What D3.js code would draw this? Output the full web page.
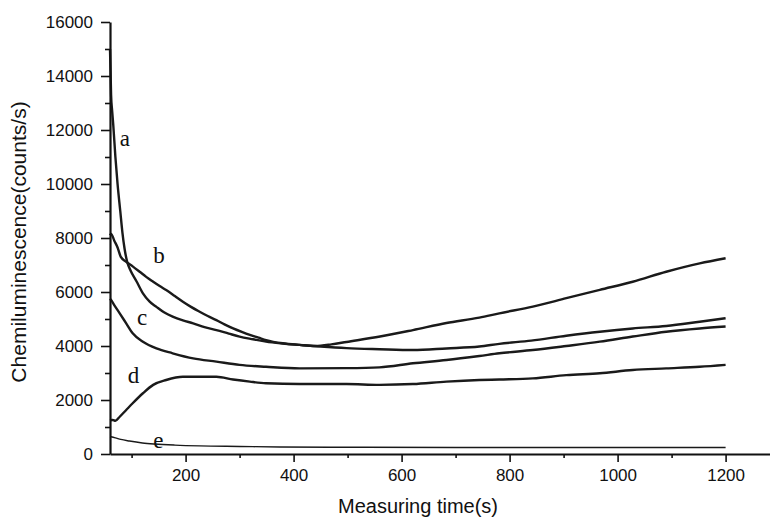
<!DOCTYPE html>
<html>
<head>
<meta charset="utf-8">
<script src="https://cdn.jsdelivr.net/npm/d3@7"></script>
<style>
    body { margin: 0; background: #fff; }
    svg { display: block; }
</style>
</head>
<body>
<div id="chart"></div>
<script>
// Time (s) and chemiluminescence (counts/s)
const curveA = [[60,15000],[61,14200],[62,13300],[64,12700],[66,12200],[70,11000],[74,10000],[79,9000],[83,8200],[87,7600],[92,7100],[98,6800],[109,6400],[121,5950],[133,5650],[146,5450],[160,5250],[176,5090],[195,4950],[214,4840],[235,4700],[257,4590],[280,4460],[300,4350],[325,4250],[349,4160],[380,4090],[411,4040],[450,3980],[498,3920],[559,3880],[621,3850],[683,3910],[744,3980],[781,4080],[840,4200],[905,4380],[967,4530],[1028,4650],[1090,4740],[1152,4900],[1200,5030]];
const curveB = [[60,8100],[62,8150],[68,7900],[74,7650],[80,7300],[90,7120],[102,6950],[115,6750],[127,6560],[140,6380],[152,6220],[164,6070],[180,5850],[195,5640],[210,5450],[226,5270],[241,5110],[257,4960],[272,4800],[288,4650],[304,4520],[319,4410],[335,4310],[349,4220],[380,4100],[411,4040],[440,4000],[470,4060],[498,4150],[560,4350],[621,4590],[683,4850],[744,5050],[781,5210],[843,5460],[905,5770],[967,6080],[1028,6380],[1090,6750],[1152,7060],[1200,7250]];
const curveC = [[60,5750],[62,5700],[70,5450],[78,5210],[90,4840],[102,4470],[121,4160],[146,3910],[176,3730],[214,3540],[257,3420],[300,3300],[349,3230],[411,3170],[498,3180],[559,3210],[621,3360],[683,3480],[744,3630],[781,3730],[843,3850],[905,4000],[967,4160],[1028,4350],[1090,4530],[1152,4650],[1200,4720]];
const curveD = [[60,1250],[65,1260],[70,1230],[78,1380],[90,1630],[102,1880],[121,2250],[140,2560],[164,2740],[195,2860],[226,2860],[257,2860],[288,2760],[319,2680],[349,2620],[411,2590],[498,2590],[559,2560],[621,2590],[683,2680],[744,2740],[781,2760],[843,2800],[905,2920],[967,2990],[1028,3110],[1090,3170],[1152,3230],[1200,3300]];
const curveE = [[60,650],[70,600],[80,540],[96,480],[120,410],[143,370],[180,330],[226,300],[300,280],[374,260],[500,250],[700,240],[900,240],[1200,240]];

const seriesNames = ["a", "b", "c", "d", "e"];
// where each letter is written, in data units
const labelAnchors = [[78,11400],[140,7070],[110,4780],[93,2630],[140,220]];

const xMajor = [200, 400, 600, 800, 1000, 1200];
const xMinor = [100, 300, 500, 700, 900, 1100];
const yMajor = [0, 2000, 4000, 6000, 8000, 10000, 12000, 14000, 16000];
const yMinor = [1000, 3000, 5000, 7000, 9000, 11000, 13000, 15000];

const width = 770, height = 521;

const x = d3.scaleLinear().domain([60, 1285]).range([110, 771.5]);
const y = d3.scaleLinear().domain([0, 16000]).range([454, 22]);

const svg = d3.select('#chart').append('svg')
    .attr('width', width)
    .attr('height', height)
    .style('font-family', '"Liberation Sans", Arial, sans-serif');

// curves
const line = d3.line()
    .x(d => x(d[0]))
    .y(d => y(d[1]))
    .curve(d3.curveMonotoneX);

const allCurves = [curveA, curveB, curveC, curveD, curveE];
svg.append('g')
    .selectAll('path')
    .data(allCurves)
    .join('path')
    .attr('d', line)
    .attr('fill', 'none')
    .attr('stroke', '#1a1a1a')
    .attr('stroke-width', (d, i) => i === 4 ? 1.4 : 2.4)
    .attr('stroke-linejoin', 'round');

// minor ticks first, then the major axis on top
svg.append('g')
    .attr('transform', `translate(0,${y(0)})`)
    .call(d3.axisBottom(x).tickValues(xMinor).tickSize(4).tickFormat(''))
    .call(g => g.select('.domain').remove());

svg.append('g')
    .attr('transform', `translate(${x(60)},0)`)
    .call(d3.axisLeft(y).tickValues(yMinor).tickSize(5).tickFormat(''))
    .call(g => g.select('.domain').remove());

const xAxis = svg.append('g')
    .attr('transform', `translate(0,${y(0)})`)
    .call(d3.axisBottom(x).tickValues(xMajor).tickFormat(d3.format('d'))
        .tickSize(8).tickSizeOuter(0).tickPadding(7));

const yAxis = svg.append('g')
    .attr('transform', `translate(${x(60)},0)`)
    .call(d3.axisLeft(y).tickValues(yMajor).tickFormat(d3.format('d'))
        .tickSize(9).tickSizeOuter(0).tickPadding(8));

svg.selectAll('.tick line').attr('stroke', '#111').attr('stroke-width', 1.6);
svg.selectAll('.domain').attr('stroke', '#111').attr('stroke-width', 2.2);

xAxis.selectAll('text')
    .attr('font-size', 17)
    .attr('font-family', '"Liberation Sans", Arial, sans-serif')
    .attr('fill', '#111');
yAxis.selectAll('text')
    .attr('font-size', 17)
    .attr('font-family', '"Liberation Sans", Arial, sans-serif')
    .attr('fill', '#111');

// axis titles
svg.append('text')
    .attr('x', 418)
    .attr('y', 513)
    .attr('text-anchor', 'middle')
    .attr('font-size', 20)
    .attr('fill', '#111')
    .text('Measuring time(s)');

svg.append('text')
    .attr('transform', 'translate(26,242) rotate(-90)')
    .attr('text-anchor', 'middle')
    .attr('font-size', 21)
    .attr('fill', '#111')
    .text('Chemiluminescence(counts/s)');

// curve letters
svg.append('g')
    .selectAll('text')
    .data(seriesNames)
    .join('text')
    .attr('x', (d, i) => x(labelAnchors[i][0]))
    .attr('y', (d, i) => y(labelAnchors[i][1]))
    .attr('font-family', '"Liberation Serif", "Times New Roman", serif')
    .attr('font-size', 23)
    .attr('fill', '#111')
    .text(d => d);
</script>
</body>
</html>
